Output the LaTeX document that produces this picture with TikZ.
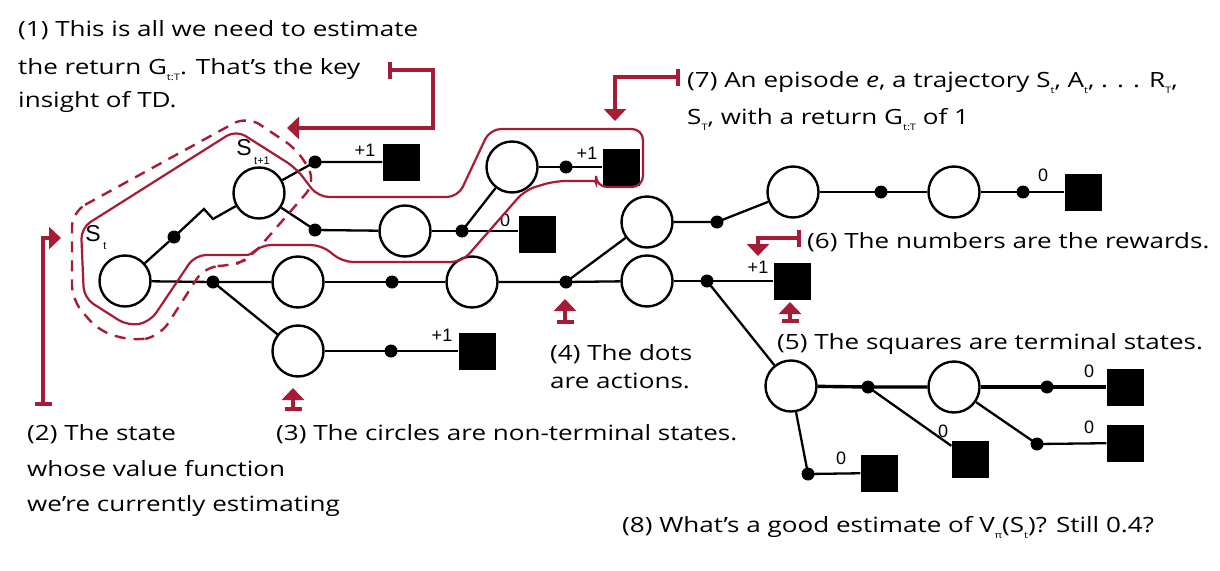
\documentclass[tikz,border=0pt]{standalone}
\usepackage{fontspec}
\setmainfont{Open Sans}[FakeStretch=1.24]
\newfontfamily\arialf{Liberation Sans}
\usetikzlibrary{arrows.meta}
\definecolor{epired}{RGB}{166,28,52}
\newcommand{\sbs}[1]{\raisebox{-0.55ex}{\fontsize{9}{9}\selectfont #1}}
\begin{document}
\begin{tikzpicture}[x=1pt,y=-1pt,
 st/.style={circle,draw=black,line width=2.4pt,minimum size=51pt,inner sep=0pt,fill=white},
 term/.style={rectangle,fill=black,minimum size=37pt,inner sep=0pt},
 act/.style={circle,fill=black,minimum size=13pt,inner sep=0pt},
 edge/.style={line width=2.3pt},
 tedge/.style={line width=3.4pt},
 rew/.style={font=\arialf\fontsize{18}{18}\selectfont,inner sep=0pt},
 slab/.style={font=\arialf\fontsize{23}{23}\selectfont,inner sep=0pt},
 sublab/.style={font=\arialf\fontsize{11}{11}\selectfont,inner sep=0pt},
 note/.style={font=\fontsize{21}{21}\selectfont,anchor=base west,inner sep=0pt},
 callout/.style={draw=epired,line width=4pt,{Bar[width=17pt]}-{Triangle[length=12pt,width=22pt]}},
 ]
\useasboundingbox (0,0) rectangle (1220,570);

% states
\node[st] (s0) at (125,281) {};
\node[act] (a0) at (174,237) {};
\node[st] (s1) at (259,193) {};
\node[act] (a1u) at (315,162) {};
\node[term] (t1) at (401,162) {};
\node[act] (a1d) at (315,230) {};
\node[st] (s2m) at (405,231) {};
\node[act] (a2m) at (462,231) {};
\node[term] (t2m) at (537,234) {};
\node[st] (s3u) at (512,167) {};
\node[act] (a3u) at (566,167) {};
\node[term] (t3u) at (621,167) {};
\node[act] (a0m) at (213,282) {};
\node[st] (s1m) at (298,282) {};
\node[act] (a1m) at (392,282) {};
\node[st] (s2) at (472,282) {};
\node[act] (a2) at (566,282) {};
\node[st] (s3a) at (647,222) {};
\node[st] (s3b) at (647,281) {};
\node[act] (a3a) at (717,222) {};
\node[st] (s4a) at (793,192) {};
\node[act] (a4a) at (881,192) {};
\node[st] (s5a) at (954,192) {};
\node[act] (a5a) at (1023,192) {};
\node[term] (t5a) at (1083,192) {};
\node[act] (a3b) at (707,281) {};
\node[term] (t3b) at (792,281) {};
\node[st] (s4b) at (791,386) {};
\node[act] (a4b) at (868,387) {};
\node[st] (s5b) at (954,387) {};
\node[act] (a5b) at (1047,387) {};
\node[term] (t5b) at (1125,387) {};
\node[term] (t4b) at (970,459) {};
\node[act] (a5c) at (1037,444) {};
\node[term] (t5c) at (1125,443) {};
\node[act] (a4c) at (808,474) {};
\node[term] (t4c) at (879,473) {};
\node[st] (s1l) at (298,351) {};
\node[act] (a1l) at (391,351) {};
\node[term] (t1l) at (477,351) {};

% edges
\coordinate (z1) at (204,209);
\coordinate (z2) at (213,219);
\draw[edge] (s0) -- (a0);
\draw[edge,line join=miter] (a0.center) -- (z1) -- (z2) -- (s1);
\draw[edge] (s1) -- (a1u.center) -- (t1);
\draw[edge] (s1) -- (a1d.center) -- (s2m);
\draw[edge] (s2m) -- (a2m.center) -- (t2m.west |- a2m);
\draw[edge] (a2m.center) -- (s3u);
\draw[edge] (s3u) -- (a3u.center) -- (t3u);
\draw[edge] (s0) -- (a0m.center) -- (s1m);
\draw[edge] (s1m) -- (a1m.center) -- (s2);
\draw[edge] (s2) -- (a2.center) -- (s3b);
\draw[edge] (a2.center) -- (s3a);
\draw[edge] (s3a) -- (a3a.center) -- (s4a);
\draw[edge] (s4a) -- (a4a.center) -- (s5a);
\draw[edge] (s5a) -- (a5a.center) -- (t5a);
\draw[edge] (s3b) -- (a3b.center) -- (t3b);
\draw[edge] (a3b.center) -- (s4b);
\draw[tedge] (s4b) -- (a4b.center) -- (s5b);
\draw[tedge] (s5b) -- (a5b.center) -- (t5b);
\draw[edge] (a4b.center) -- (t4b);
\draw[edge] (s5b) -- (a5c.center) -- (t5c);
\draw[edge] (s4b) -- (a4c.center) -- (t4c);
\draw[edge] (a0m.center) -- (s1l);
\draw[edge] (s1l) -- (a1l.center) -- (t1l);

% reward labels
\node[rew] (r1) at (365,150) {+1};
\node[rew] (r2) at (505,220) {0};
\node[rew] (r3) at (587,153) {+1};
\node[rew] (r4) at (1043,175) {0};
\node[rew] (r5) at (758,267) {+1};
\node[rew] (r6) at (1089,371) {0};
\node[rew] (r7) at (943,431) {0};
\node[rew] (r8) at (1089,427) {0};
\node[rew] (r9) at (841,458) {0};
\node[rew] (r10) at (442,335) {+1};

% state labels
\node[slab] (lS0) at (93,234) {S};
\node[sublab] (lS0t) at (105,246) {t};
\node[slab] (lS1) at (244,148) {S};
\node[sublab] (lS1t) at (262,161) {t+1};

% episode outline (solid)
\draw[epired,line width=2.2pt,rounded corners=11pt]
 (81,228) -- (236,130) -- (296,168) -- (318,197) -- (458,197) -- (490,129)
 -- (643,129) -- (643,187) -- (596,187) [rounded corners=2pt]-- (596,181) [rounded corners=11pt]-- (555,181)
 -- (525,190) -- (462,262) -- (342,262) -- (322,245) -- (260,245) [rounded corners=3pt]-- (250,255) [rounded corners=11pt]
 -- (195,255) -- (150,322) -- (128,326) -- (84,298) -- cycle;

% TD target outline (dashed)
\draw[epired,line width=2.4pt,dash pattern=on 11pt off 8pt,rounded corners=15pt]
 (72,212) -- (247,116) -- (298,150) -- (316,182) -- (250,258) -- (232,266) -- (205,266)
 -- (160,336) -- (135,341) -- (100,332) -- (72,300) -- cycle;

% callout arrows
\coordinate (c1a) at (388,70);
\coordinate (c1b) at (287,128);
\draw[callout] (c1a) -- (433,70) -- (433,128) -- (c1b);
\coordinate (c2a) at (43,406);
\coordinate (c2b) at (61,238);
\draw[callout] (c2a) -- (43,238) -- (c2b);
\coordinate (c3a) at (293,411);
\coordinate (c3b) at (293,388);
\draw[callout] (c3a) -- (c3b);
\coordinate (c4a) at (565,324);
\coordinate (c4b) at (565,299);
\draw[callout] (c4a) -- (c4b);
\coordinate (c5a) at (790,323);
\coordinate (c5b) at (790,302);
\draw[callout] (c5a) -- (c5b);
\coordinate (c6a) at (801,238);
\coordinate (c6b) at (758,256);
\draw[callout] (c6a) -- (758,238) -- (c6b);
\coordinate (c7a) at (680,77);
\coordinate (c7b) at (615,121);
\draw[callout] (c7a) -- (615,77) -- (c7b);

% notes
\node[note] (n1a) at (18,36) {(1) This is all we need to estimate};
\node[note] (n1b) at (18,74) {the return G\sbs{t:T}. That’s the key};
\node[note] (n1c) at (18,107) {insight of TD.};
\node[note] (n7a) at (687,87) {(7) An episode \textit{e}, a trajectory S\sbs{t}, A\sbs{t}, . . . R\sbs{T},};
\node[note] (n7b) at (687,124) {S\sbs{T}, with a return G\sbs{t:T} of 1};
\node[note] (n6) at (807,248) {(6) The numbers are the rewards.};
\node[note] (n5) at (777,349) {(5) The squares are terminal states.};
\node[note] (n4a) at (550,360) {(4) The dots};
\node[note] (n4b) at (550,388) {are actions.};
\node[note] (n3) at (276,440) {(3) The circles are non-terminal states.};
\node[note] (n2a) at (27,440) {(2) The state};
\node[note] (n2b) at (27,476) {whose value function};
\node[note] (n2c) at (27,511) {we’re currently estimating};
\node[note] (n8) at (622,532) {(8) What’s a good estimate of V\sbs{π}(S\sbs{t})? Still 0.4?};
\end{tikzpicture}
\end{document}
